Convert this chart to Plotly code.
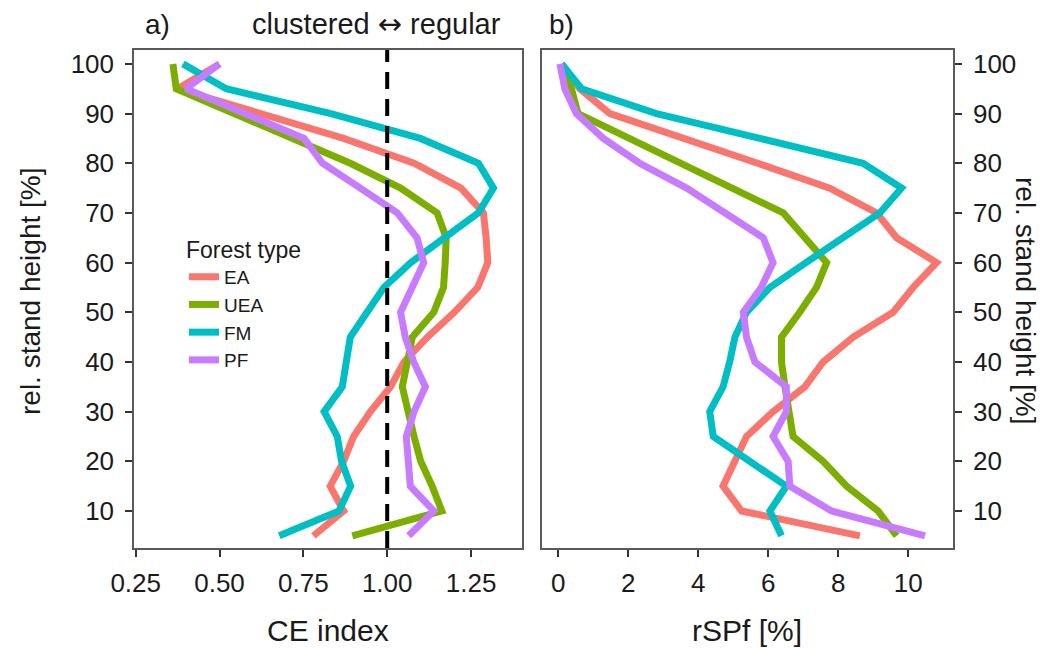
import plotly.graph_objects as go

heights = [5, 10, 15, 20, 25, 30, 35, 40, 45, 50, 55, 60, 65, 70, 75, 80, 85, 90, 95, 100]
forest_types = ["EA", "UEA", "FM", "PF"]
colors = {"EA": "#F8766D", "UEA": "#7CAE00", "FM": "#00BFC4", "PF": "#C77CFF"}

ce_ea = [0.78, 0.87, 0.83, 0.87, 0.90, 0.95, 1.01, 1.05, 1.12, 1.20, 1.27, 1.30, 1.295, 1.287, 1.22, 1.08, 0.87, 0.63, 0.375, 0.50]
ce_uea = [0.896, 1.163, 1.134, 1.10, 1.08, 1.06, 1.045, 1.06, 1.075, 1.139, 1.168, 1.173, 1.176, 1.149, 1.04, 0.89, 0.718, 0.54, 0.371, 0.361]
ce_fm = [0.678, 0.856, 0.891, 0.864, 0.851, 0.812, 0.866, 0.879, 0.89, 0.94, 0.99, 1.07, 1.168, 1.272, 1.317, 1.272, 1.099, 0.832, 0.52, 0.391]
ce_pf = [1.064, 1.139, 1.069, 1.064, 1.057, 1.08, 1.114, 1.079, 1.054, 1.04, 1.075, 1.109, 1.089, 1.03, 0.92, 0.807, 0.752, 0.58, 0.40, 0.50]

rspf_ea = [8.62, 5.24, 4.71, 5.05, 5.38, 6.14, 7.05, 7.57, 8.43, 9.57, 10.14, 10.81, 9.67, 9.1, 7.76, 5.7, 3.63, 1.48, 0.62, 0.1]
rspf_uea = [9.67, 9.14, 8.24, 7.57, 6.71, 6.57, 6.48, 6.38, 6.38, 6.9, 7.38, 7.67, 7.06, 6.43, 4.97, 3.5, 2.05, 0.57, 0.38, 0.1]
rspf_fm = [6.38, 6.05, 6.52, 5.47, 4.43, 4.33, 4.71, 4.9, 5.05, 5.38, 6.05, 7.08, 8.13, 9.19, 9.81, 8.71, 5.76, 2.81, 0.67, 0.1]
rspf_pf = [10.48, 7.81, 6.62, 6.57, 6.14, 6.52, 6.52, 5.62, 5.38, 5.29, 5.8, 6.14, 5.86, 4.81, 3.67, 2.33, 1.29, 0.52, 0.19, 0.05]

ce_vals = {"EA": ce_ea, "UEA": ce_uea, "FM": ce_fm, "PF": ce_pf}
rspf_vals = {"EA": rspf_ea, "UEA": rspf_uea, "FM": rspf_fm, "PF": rspf_pf}

ce_ticks = [0.25, 0.50, 0.75, 1.00, 1.25]
ce_ticklabels = ["0.25", "0.50", "0.75", "1.00", "1.25"]
rspf_ticks = [0, 2, 4, 6, 8, 10]
y_ticks = [10, 20, 30, 40, 50, 60, 70, 80, 90, 100]

FONT = "Liberation Sans, Arial, Helvetica, sans-serif"
TXT = "#1a1a1a"
LW = 7
OFF = 8  # page body margin
W, H = 1048 - OFF, 648 - OFF


def px(x):
    return (x - OFF) / W


def py(y):
    return 1 - (y - OFF) / H


fig = go.Figure()
for ft in forest_types:
    fig.add_trace(go.Scatter(x=ce_vals[ft], y=heights, mode="lines", name=ft,
                             line=dict(color=colors[ft], width=LW), xaxis="x", yaxis="y",
                             legendgroup=ft, showlegend=True))
for ft in forest_types:
    fig.add_trace(go.Scatter(x=rspf_vals[ft], y=heights, mode="lines", name=ft,
                             line=dict(color=colors[ft], width=LW), xaxis="x2", yaxis="y2",
                             legendgroup=ft, showlegend=False))

ydom = [py(548), py(50)]
fig.add_shape(type="line", xref="x", yref="paper", x0=1.0, x1=1.0, y0=ydom[0], y1=ydom[1],
              line=dict(color="black", width=4, dash="17px,10px"), layer="above")

axis_common = dict(showline=True, linecolor="#5a5a5a", linewidth=1.5, mirror=True,
                   ticks="outside", ticklen=7, tickwidth=1.8, tickcolor="#333333",
                   showgrid=False, zeroline=False, automargin=False,
                   tickfont=dict(family=FONT, size=26, color=TXT))

fig.update_layout(
    width=W, height=H,
    template="none",
    margin=dict(l=0, r=0, t=0, b=0, autoexpand=False),
    plot_bgcolor="white", paper_bgcolor="white",
    xaxis=dict(domain=[px(134), px(522)], range=[0.245, 1.402], anchor="y",
               tickvals=ce_ticks, ticktext=ce_ticklabels, ticklabelstandoff=4, **axis_common),
    yaxis=dict(domain=ydom, range=[2.55, 102.8], anchor="x", tickvals=y_ticks,
               ticklabelstandoff=6, **axis_common),
    xaxis2=dict(domain=[px(541.7), px(953)], range=[-0.47, 11.28], anchor="y2",
                tickvals=rspf_ticks, ticklabelstandoff=4, **axis_common),
    yaxis2=dict(domain=ydom, range=[2.55, 102.8], anchor="x2", side="right",
                tickvals=y_ticks, ticklabelstandoff=6, **axis_common),
    legend=dict(x=px(184), y=py(228), xanchor="left", yanchor="top",
                title=dict(text="Forest type", font=dict(family=FONT, size=23, color=TXT)),
                font=dict(family=FONT, size=19, color=TXT),
                bgcolor="rgba(0,0,0,0)", itemwidth=30, tracegroupgap=0),
    showlegend=True,
)

annots = [
    dict(text="a)", x=157, y=24, size=28),
    dict(text="clustered <span style='font-family:DejaVu Sans'>\u2194</span> regular", x=376, y=24, size=29),
    dict(text="b)", x=561, y=24, size=28),
    dict(text="CE index", x=328, y=630, size=30),
    dict(text="rSPf [%]", x=747, y=630, size=30),
]
for a in annots:
    fig.add_annotation(text=a["text"], xref="paper", yref="paper",
                       x=px(a["x"]), y=py(a["y"]), xanchor="center", yanchor="middle",
                       showarrow=False, font=dict(family=FONT, size=a["size"], color=TXT))
fig.add_annotation(text="rel. stand height [%]", xref="paper", yref="paper",
                   x=px(30), y=py(292), textangle=-90, showarrow=False,
                   xanchor="center", yanchor="middle", font=dict(family=FONT, size=28, color=TXT))
fig.add_annotation(text="rel. stand height [%]", xref="paper", yref="paper",
                   x=px(1026), y=py(300), textangle=90, showarrow=False,
                   xanchor="center", yanchor="middle", font=dict(family=FONT, size=28, color=TXT))

fig.write_html("out.html")
